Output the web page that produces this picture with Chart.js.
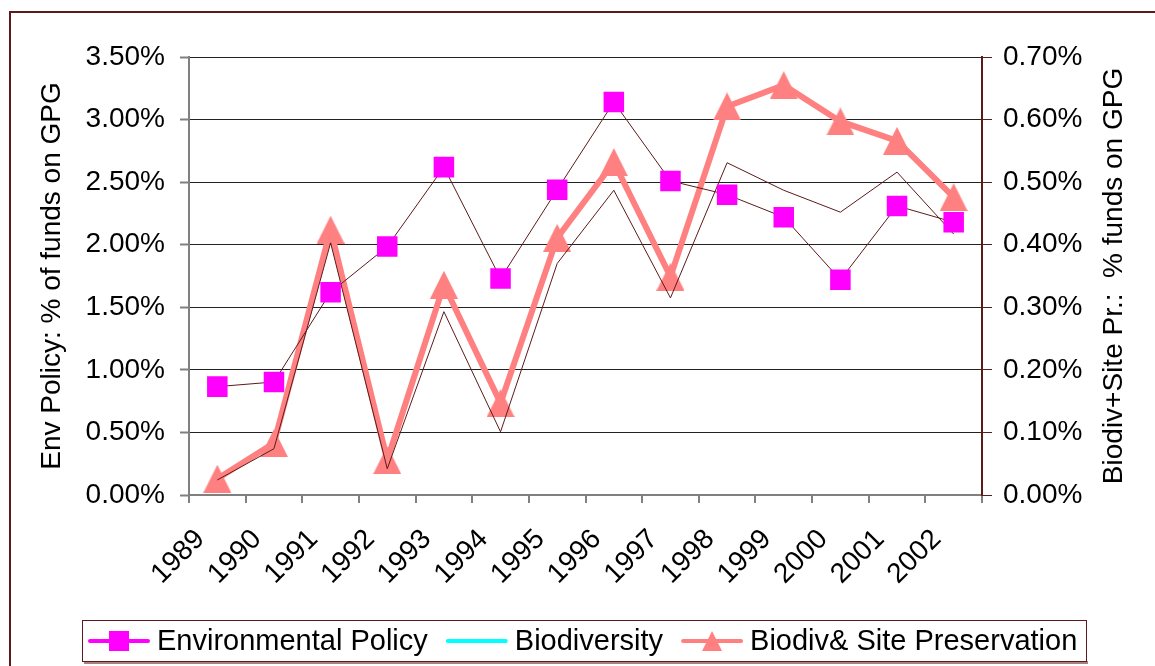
<!DOCTYPE html>
<html>
<head>
<meta charset="utf-8">
<script src="https://cdn.jsdelivr.net/npm/chart.js@4/dist/chart.umd.min.js"></script>
<style>
  html, body { margin: 0; padding: 0; background: #fff; }
</style>
</head>
<body>
<canvas id="chart" width="1155" height="666"></canvas>
<script>
// data (values in %)
const years = ['1989', '1990', '1991', '1992', '1993', '1994', '1995', '1996', '1997', '1998', '1999', '2000', '2001', '2002'];
const envPolicy = [0.866, 0.903, 1.62, 1.985, 2.62, 1.73, 2.44, 3.14, 2.51, 2.40, 2.22, 1.72, 2.31, 2.18];
const biodiversity = [0.024, 0.074, 0.403, 0.042, 0.293, 0.101, 0.370, 0.487, 0.315, 0.531, 0.487, 0.452, 0.516, 0.417];
const biodivSite = [0.026, 0.083, 0.424, 0.056, 0.336, 0.147, 0.411, 0.532, 0.349, 0.621, 0.655, 0.597, 0.566, 0.476];

const leftMax = 3.5, leftStep = 0.5;
const rightMax = 0.7, rightStep = 0.1;
const leftTitle = 'Env Policy: % of funds on GPG';
const rightTitle = 'Biodiv+Site Pr.:  % funds on GPG';

const FONT = '"Liberation Sans", Arial, sans-serif';
const MAROON = '#5c1a1a';
const pct = (v) => v.toFixed(2) + '%';

// triangle marker centred on its box, like the Excel one
function makeTriangle(size, color) {
  const c = document.createElement('canvas');
  c.width = size;
  c.height = size;
  const g = c.getContext('2d');
  g.fillStyle = color;
  g.beginPath();
  g.moveTo(size / 2, 0);
  g.lineTo(size, size);
  g.lineTo(0, size);
  g.closePath();
  g.fill();
  return c;
}
const triBig = makeTriangle(28, '#ff8080');
const triSmall = makeTriangle(20, '#ff8080');

// outer frame of the chart
const framePlugin = {
  id: 'frame',
  beforeDraw(chart) {
    const ctx = chart.ctx;
    ctx.save();
    ctx.strokeStyle = MAROON;
    ctx.lineWidth = 2;
    ctx.strokeRect(10, 12, 1300, 800);
    ctx.restore();
  }
};

// right axis title reads bottom-to-top in the original, Chart.js turns it the other way
const rightTitlePlugin = {
  id: 'rightTitle',
  afterDraw(chart) {
    const ctx = chart.ctx;
    const a = chart.chartArea;
    ctx.save();
    ctx.translate(1114, (a.top + a.bottom) / 2);
    ctx.rotate(-Math.PI / 2);
    ctx.font = '28px ' + FONT;
    ctx.fillStyle = '#000';
    ctx.textAlign = 'center';
    ctx.textBaseline = 'middle';
    ctx.fillText(rightTitle, 0, 0);
    ctx.restore();
  }
};

// boxed legend at the bottom
const legendStyles = [
  { color: '#ff00ff', marker: 'square' },
  { color: '#00ffff', marker: null },
  { color: '#ff8080', marker: 'triangle' }
];
const legendPlugin = {
  id: 'boxLegend',
  afterDraw(chart) {
    const ctx = chart.ctx;
    ctx.save();
    ctx.fillStyle = '#a88080';
    ctx.fillRect(84, 661, 1004, 3);
    ctx.fillStyle = '#fff';
    ctx.fillRect(82, 620, 1005, 42);
    ctx.strokeStyle = MAROON;
    ctx.lineWidth = 1;
    ctx.strokeRect(82.5, 620.5, 1004, 41);

    ctx.font = '29px ' + FONT;
    ctx.textBaseline = 'middle';
    ctx.fillStyle = '#000';
    const cy = 641;
    let x = 88;
    chart.data.datasets.forEach((ds, i) => {
      const st = legendStyles[i];
      ctx.strokeStyle = st.color;
      ctx.lineWidth = 4;
      ctx.lineCap = 'round';
      ctx.beginPath();
      ctx.moveTo(x + 2, cy);
      ctx.lineTo(x + 60, cy);
      ctx.stroke();
      if (st.marker === 'square') {
        ctx.fillStyle = st.color;
        ctx.fillRect(x + 21, cy - 10, 20, 20);
      } else if (st.marker === 'triangle') {
        ctx.drawImage(triSmall, x + 21, cy - 10);
      }
      ctx.fillStyle = '#000';
      ctx.fillText(ds.label, x + 69, cy + 1);
      x += 69 + ctx.measureText(ds.label).width + 18;
    });
    ctx.restore();
  }
};

const ctx = document.getElementById('chart').getContext('2d');
new Chart(ctx, {
  type: 'line',
  data: {
    labels: years,
    datasets: [
      {
        label: 'Environmental Policy',
        data: envPolicy,
        yAxisID: 'y',
        borderColor: MAROON,
        borderWidth: 1,
        pointStyle: 'rect',
        pointRadius: 14.5,
        pointBackgroundColor: '#ff00ff',
        pointBorderColor: '#ff00ff',
        pointBorderWidth: 0,
        order: 0
      },
      {
        label: 'Biodiversity',
        data: biodiversity,
        yAxisID: 'y2',
        borderColor: MAROON,
        borderWidth: 1,
        pointRadius: 0,
        order: 1
      },
      {
        label: 'Biodiv& Site Preservation',
        data: biodivSite,
        yAxisID: 'y2',
        borderColor: '#ff8080',
        borderWidth: 6,
        pointStyle: triBig,
        pointRadius: 14,
        order: 2
      }
    ]
  },
  options: {
    responsive: false,
    animation: false,
    devicePixelRatio: 1,
    layout: { padding: { top: 57, left: 0, right: 0, bottom: 0 } },
    plugins: {
      legend: { display: false },
      tooltip: { enabled: false }
    },
    scales: {
      x: {
        offset: true,
        grid: { offset: true, drawOnChartArea: false, color: '#808080', lineWidth: 2, tickLength: 8 },
        border: { color: '#808080', width: 2 },
        ticks: {
          minRotation: 45,
          maxRotation: 45,
          labelOffset: -17,
          padding: 20,
          color: '#000',
          font: { family: FONT, size: 28 }
        },
        afterFit: (s) => { s.height = 171; }
      },
      y: {
        position: 'left',
        min: 0,
        max: leftMax,
        ticks: {
          stepSize: leftStep,
          padding: 15,
          color: '#000',
          font: { family: FONT, size: 28 },
          callback: (v) => pct(v)
        },
        grid: { color: '#222', lineWidth: 1, tickColor: '#808080', tickWidth: 2, tickLength: 9 },
        border: { color: '#808080', width: 2 },
        title: {
          display: true,
          text: leftTitle,
          color: '#000',
          font: { family: FONT, size: 28 },
          padding: { top: 35, bottom: 0 }
        },
        afterFit: (s) => { s.width = 189; }
      },
      y2: {
        position: 'right',
        min: 0,
        max: rightMax,
        ticks: {
          stepSize: rightStep,
          padding: 11,
          color: '#000',
          font: { family: FONT, size: 28 },
          callback: (v) => pct(v)
        },
        grid: { drawOnChartArea: false, tickColor: MAROON, tickWidth: 1, tickLength: 10 },
        border: { color: MAROON, width: 2 },
        afterFit: (s) => { s.width = 173; }
      }
    }
  },
  plugins: [framePlugin, rightTitlePlugin, legendPlugin]
});
</script>
</body>
</html>
